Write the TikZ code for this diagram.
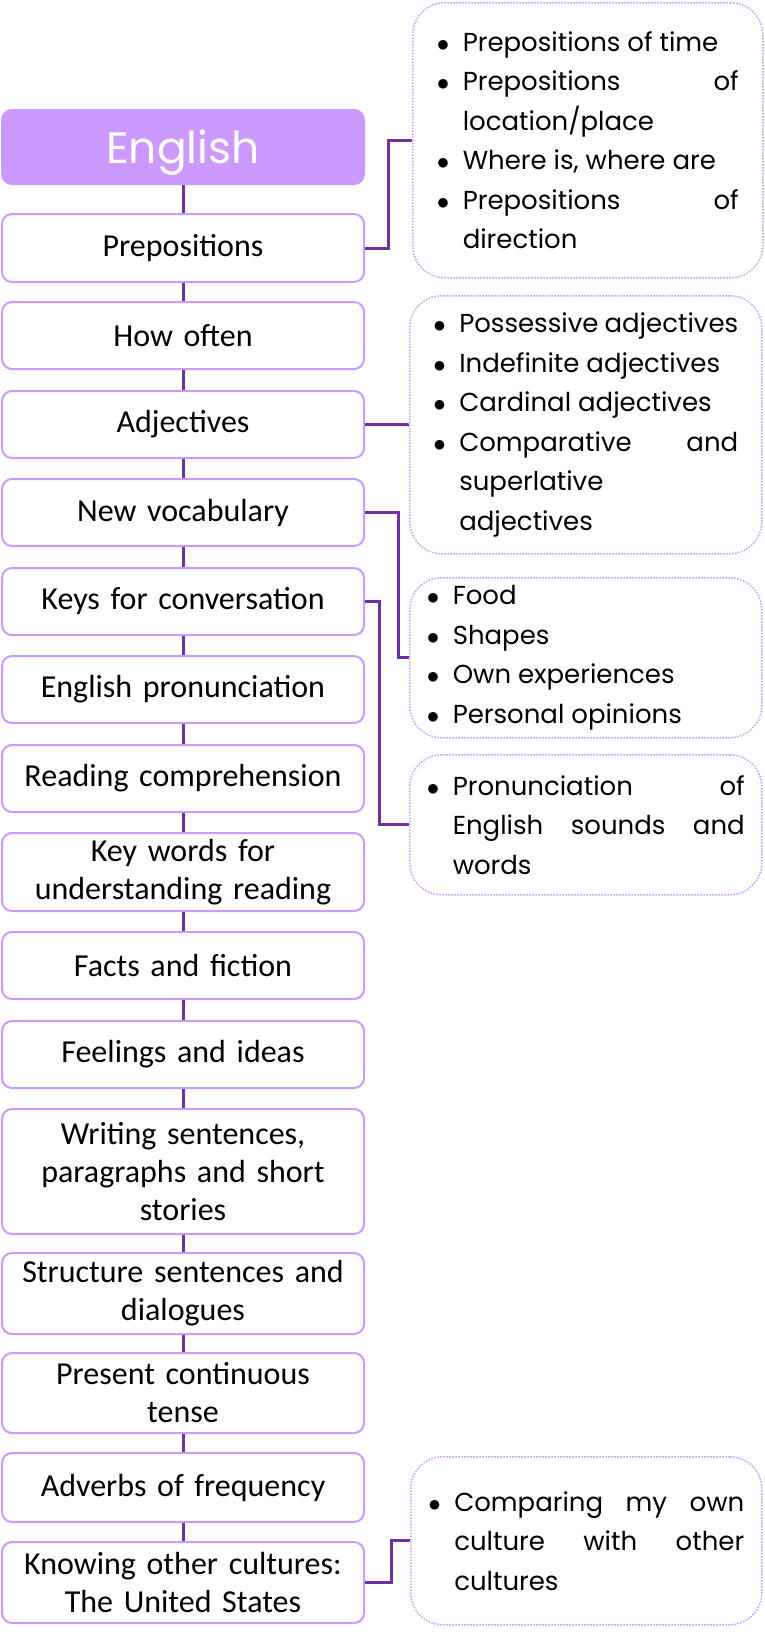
\documentclass[tikz,border=0pt]{standalone}
\usepackage{fontspec}
\setmainfont{Carlito}
\newfontfamily\gothic{Poppins}

\definecolor{lilac}{HTML}{CC99FF}
\definecolor{plum}{HTML}{7030A0}

% bullet item with hanging indent
\newcommand{\bul}[1]{\leftskip=26pt\noindent\hskip-26pt\makebox[26pt][l]{$\bullet$}#1\par}

\tikzset{
	topic/.style={draw=lilac, line width=2pt, rounded corners=10pt, fill=white,
		minimum width=362pt, text width=345pt, align=center, inner sep=0pt,
		font=\fontsize{32}{38}\selectfont},
	header/.style={topic, fill=lilac, text=white, text depth=0pt,
		font=\gothic\fontsize{44}{50}\selectfont},
	callout/.style={draw=lilac, line width=1.5pt, dash pattern=on 1.5pt off 1.5pt,
		rounded corners=32pt, minimum width=352pt, inner sep=0pt, align=justify,
		anchor=north west, font=\gothic\fontsize{26}{39.5}\selectfont},
	link/.style={draw=plum, line width=3pt}
}

\begin{document}
\begin{tikzpicture}[x=1pt, y=-1pt, line join=miter]
	\useasboundingbox (0,0) rectangle (765,1641);
	
	% ==========================================
	% CỘT CHỦ ĐỀ (BÊN TRÁI)
	% ==========================================
	\node[header, anchor=north, minimum height=74pt] (eng) at (183,109) {English};
	
	\foreach \id/\y/\h/\txt in {
		prep/213/68/Prepositions,
		often/301/67/How often,
		adj/390/67/Adjectives,
		vocab/478/67/New vocabulary,
		keys/567/67/Keys for conversation,
		pron/655/67/English pronunciation,
		read/744/67/Reading comprehension,
		keyw/832/78/{Key words for\\understanding reading},
		facts/931/67/Facts and fiction,
		feel/1020/67/Feelings and ideas,
		write/1108/125/{Writing sentences,\\paragraphs and short\\stories},
		struct/1252/81/{Structure sentences and\\dialogues},
		pres/1352/80/{Present continuous\\tense},
		adv/1452/69/Adverbs of frequency,
		know/1541/81/{Knowing other cultures:\\The United States}} {
		\node[topic, anchor=north, minimum height=\h pt] (\id) at (183,\y) {\txt};
	}
	
	% Trục dọc nối các chủ đề
	\foreach \a/\b in {eng/prep, prep/often, often/adj, adj/vocab, vocab/keys,
		keys/pron, pron/read, read/keyw, keyw/facts, facts/feel, feel/write,
		write/struct, struct/pres, pres/adv, adv/know} {
		\draw[link] (\a) -- (\b);
	}
	
	% ==========================================
	% CÁC Ô GHI CHÚ (BÊN PHẢI)
	% ==========================================
	\node[callout, minimum width=350pt, minimum height=275pt, text width=302pt] (c1) at (412,2) {%
		\bul{Prepositions of time}
		\bul{Prepositions of\linebreak location/place}
		\bul{Where is, where are}
		\bul{Prepositions of\linebreak direction}};
	
	\node[callout, minimum height=258pt, text width=305pt] (c2) at (409,295) {%
		\bul{Possessive adjectives}
		\bul{Indefinite adjectives}
		\bul{Cardinal adjectives}
		\bul{Comparative and\linebreak superlative\linebreak adjectives}};
	
	\node[callout, minimum height=160pt, text width=318pt] (c3) at (409,577) {%
		\bul{Food}
		\bul{Shapes}
		\bul{Own experiences}
		\bul{Personal opinions}};
	
	\node[callout, minimum height=140pt, text width=318pt] (c4) at (409,754) {%
		\bul{Pronunciation of\linebreak English sounds and\linebreak words}};
	
	\node[callout, minimum width=351pt, minimum height=168pt, text width=316pt] (c5) at (410,1456) {%
		\bul{Comparing my own\linebreak culture with other\linebreak cultures}};
	
	% Đường nối chủ đề -> ghi chú
	\draw[link] (prep.east) -- ++(23,0) |- (c1.west);
	\draw[link] (adj.east) -- (c2.west);
	\draw[link] (vocab.east) -- ++(33,0) |- (c3.west);
	\draw[link] (keys.east) -- ++(14,0) |- (c4.west);
	\draw[link] (know.east) -- ++(26,0) |- (c5.west);
\end{tikzpicture}
\end{document}
